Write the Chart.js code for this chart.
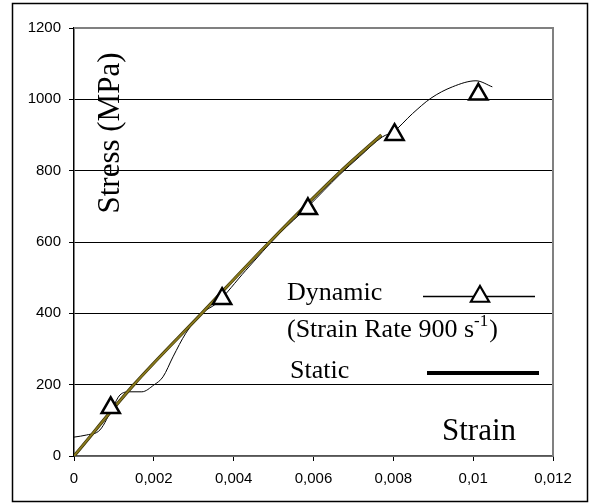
<!DOCTYPE html>
<html>
<head>
<meta charset="utf-8">
<script src="https://cdn.jsdelivr.net/npm/chart.js@4"></script>
<style>
  html, body { margin: 0; padding: 0; background: #fff; }
  #wrap { width: 592px; height: 504px; }
</style>
</head>
<body>
<div id="wrap"><canvas id="chart" width="592" height="504"></canvas></div>
<script>
// dynamic test curve (strain rate 900 1/s)
const dynStrain = [0, 0.00032, 0.00065, 0.00098, 0.00115, 0.0014, 0.0017, 0.002, 0.00223, 0.00248, 0.0028, 0.0032, 0.00357, 0.0043, 0.00515, 0.00586, 0.00665, 0.00715, 0.00773, 0.008, 0.00848, 0.00894, 0.00948, 0.01007, 0.01048];
const dynStress = [53, 59, 73, 138, 171, 180, 180, 199, 222, 278, 344, 400, 428, 520, 624, 699, 788, 839, 895, 909, 960, 1003, 1035, 1052, 1035];

// triangle markers
const markStrain = [0.00092, 0.00371, 0.00586, 0.00803, 0.01013];
const markStress = [135, 441, 693, 901, 1014];

// static test
const staticStrain = [0, 0.0015, 0.0032, 0.0049, 0.0067, 0.0077];
const staticStress = [0, 200, 400, 600, 800, 900];

const xTicks = [0, 0.002, 0.004, 0.006, 0.008, 0.01, 0.012];
const yTicks = [0, 200, 400, 600, 800, 1000, 1200];

const serif = "'Liberation Serif', 'Times New Roman', serif";
const sans = "'Liberation Sans', Arial, sans-serif";

function pts(xs, ys) {
    return xs.map((x, i) => ({ x: x, y: ys[i] }));
}

// text, legend and frame drawn on top of the chart
const decor = {
    id: "decor",
    afterDraw(chart) {
        const ctx = chart.ctx;
        const a = chart.chartArea;
        ctx.save();

        // plot area border (top / right)
        ctx.strokeStyle = "#808080";
        ctx.lineWidth = 2;
        ctx.beginPath();
        ctx.moveTo(a.left, a.top);
        ctx.lineTo(a.right, a.top);
        ctx.lineTo(a.right, a.bottom);
        ctx.stroke();

        // outer frame
        ctx.strokeStyle = "#000";
        ctx.lineWidth = 1.5;
        ctx.strokeRect(12.5, 3.5, 575, 498);

        ctx.fillStyle = "#000";
        ctx.textBaseline = "alphabetic";
        ctx.textAlign = "left";

        // axis titles
        ctx.save();
        ctx.translate(119, 133);
        ctx.rotate(-Math.PI / 2);
        ctx.font = "31px " + serif;
        ctx.textAlign = "center";
        ctx.fillText("Stress (MPa)", 0, 0);
        ctx.restore();

        ctx.font = "31px " + serif;
        ctx.fillText("Strain", 442, 440);

        // legend
        ctx.font = "26px " + serif;
        ctx.fillText("Dynamic", 287, 300);
        let s = "(Strain Rate 900 s";
        ctx.fillText(s, 287, 337);
        let x = 287 + ctx.measureText(s).width;
        ctx.font = "17px " + serif;
        ctx.fillText("-1", x, 326);
        x += ctx.measureText("-1").width;
        ctx.font = "26px " + serif;
        ctx.fillText(")", x + 1, 337);
        ctx.fillText("Static", 290, 378);

        ctx.strokeStyle = "#000";
        ctx.lineWidth = 1.5;
        ctx.beginPath();
        ctx.moveTo(423, 296.5);
        ctx.lineTo(535, 296.5);
        ctx.stroke();

        const r = 10.5, cx = 480, cy = 296.5;
        ctx.fillStyle = "#fff";
        ctx.lineWidth = 2.2;
        ctx.beginPath();
        ctx.moveTo(cx, cy - r);
        ctx.lineTo(cx + 0.866 * r, cy + r / 2);
        ctx.lineTo(cx - 0.866 * r, cy + r / 2);
        ctx.closePath();
        ctx.fill();
        ctx.stroke();

        ctx.lineWidth = 4;
        ctx.beginPath();
        ctx.moveTo(427, 373);
        ctx.lineTo(539, 373);
        ctx.stroke();

        ctx.restore();
    }
};

new Chart(document.getElementById("chart"), {
    type: "scatter",
    data: {
        datasets: [
            {
                data: pts(markStrain, markStress),
                showLine: false,
                pointStyle: "triangle",
                pointRadius: 10.5,
                borderWidth: 2.5,
                borderColor: "#000",
                backgroundColor: "#fff",
                order: 0
            },
            {
                data: pts(staticStrain, staticStress),
                showLine: true,
                borderColor: "#8a7a1c",
                borderWidth: 1.8,
                pointRadius: 0,
                cubicInterpolationMode: "monotone",
                order: 1
            },
            {
                data: pts(staticStrain, staticStress),
                showLine: true,
                borderColor: "#3a3208",
                borderWidth: 3.2,
                pointRadius: 0,
                cubicInterpolationMode: "monotone",
                order: 2
            },
            {
                data: pts(dynStrain, dynStress),
                showLine: true,
                borderColor: "#000",
                borderWidth: 1,
                pointRadius: 0,
                cubicInterpolationMode: "monotone",
                order: 3
            }
        ]
    },
    options: {
        responsive: false,
        animation: false,
        layout: { padding: { left: 0, top: 28, right: 39, bottom: 0 } },
        plugins: {
            legend: { display: false },
            tooltip: { enabled: false }
        },
        scales: {
            x: {
                type: "linear",
                min: 0,
                max: 0.012,
                afterFit: (scale) => { scale.height = 48; },
                afterBuildTicks: (scale) => { scale.ticks = xTicks.map(v => ({ value: v })); },
                ticks: {
                    color: "#000",
                    font: { family: sans, size: 15 },
                    padding: 9,
                    maxRotation: 0,
                    callback: (v) => String(Number(v.toFixed(3))).replace(".", ",")
                },
                grid: {
                    drawOnChartArea: false,
                    drawTicks: true,
                    tickLength: 5,
                    tickColor: "#000"
                },
                border: { color: "#555", width: 1.5 }
            },
            y: {
                type: "linear",
                min: 0,
                max: 1200,
                afterFit: (scale) => { scale.width = 74; },
                afterBuildTicks: (scale) => { scale.ticks = yTicks.map(v => ({ value: v })); },
                ticks: {
                    color: "#000",
                    font: { family: sans, size: 15 },
                    padding: 8,
                    callback: (v) => String(v)
                },
                grid: {
                    color: (c) => (c.tick && (c.tick.value === 1200 || c.tick.value === 0)) ? "#808080" : "#000",
                    lineWidth: 1,
                    drawTicks: true,
                    tickLength: 5,
                    tickColor: "#000"
                },
                border: { color: "#000", width: 1.5 }
            }
        }
    },
    plugins: [decor]
});
</script>
</body>
</html>
